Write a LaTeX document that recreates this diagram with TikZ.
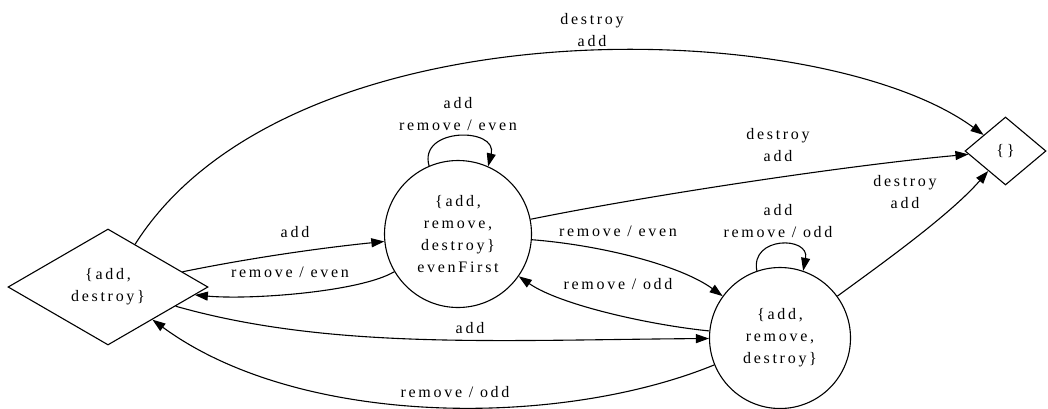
\documentclass[tikz,border=0pt]{standalone}
\usepackage{fontspec}
\setmainfont{Liberation Serif}[LetterSpace=17]
\usetikzlibrary{shapes.geometric,arrows.meta}

\tikzset{
  every node/.style={font=\fontsize{16}{22}\selectfont, align=center},
  statecircle/.style={circle, draw, line width=1.1pt, inner sep=0pt},
  statediamond/.style={diamond, draw, line width=1.1pt, inner sep=0pt},
  edge/.style={draw, line width=1.1pt, -{Triangle[length=13pt,width=9pt]}},
  lbl/.style={inner sep=0pt}
}

\begin{document}
\begin{tikzpicture}[x=1pt, y=-1pt]
  \useasboundingbox (0,0) rectangle (1048,408);

  % states
  \node[statediamond, minimum width=200pt, minimum height=116pt, aspect=1.72]
    (L) at (108,287) {\{add,\\destroy\}};
  \node[statecircle, minimum size=147pt]
    (C) at (458,234) {\{add,\\remove,\\destroy\}\\evenFirst};
  \node[statecircle, minimum size=141pt]
    (RC) at (780,338) {\{add,\\remove,\\destroy\}};
  \node[statediamond, minimum width=81pt, minimum height=68pt, aspect=1.2]
    (RD) at (1005.5,151) {\{\}};

  % transitions
  \draw[edge] (L) .. controls (290,0) and (820,15) .. (RD);
  \node[lbl] (tDA1) at (592,30) {destroy\\add};

  \draw[edge] (L) .. controls (250,258) and (320,248) .. (C);
  \node[lbl] (tA1) at (295,232) {add};

  \draw[edge] (C) .. controls (360,292) and (250,300) .. (L);
  \node[lbl] (tRE1) at (290,272) {remove / even};

  \draw[edge] (C.113) .. controls (418,127) and (498,127) .. (C.66);
  \node[lbl] (tLoopC) at (458,114) {add\\remove / even};

  \draw[edge] (C) .. controls (650,195) and (850,165) .. (RD);
  \node[lbl] (tDA2) at (778,145) {destroy\\add};

  \draw[edge] (C) .. controls (600,245) and (680,265) .. (RC);
  \node[lbl] (tRE2) at (618,231) {remove / even};

  \draw[edge] (RC) .. controls (650,325) and (560,305) .. (C);
  \node[lbl] (tRO1) at (618,284) {remove / odd};

  \draw[edge] (L) .. controls (330,350) and (500,340) .. (RC);
  \node[lbl] (tA2) at (470,328) {add};

  \draw[edge] (RC) .. controls (560,428) and (300,428) .. (L);
  \node[lbl] (tRO2) at (455,392) {remove / odd};

  \draw[edge] (RC.109) .. controls (750,236) and (810,236) .. (RC.71);
  \node[lbl] (tLoopRC) at (778,221) {add\\remove / odd};

  \draw[edge] (RC) .. controls (880,265) and (950,215) .. (RD);
  \node[lbl] (tDA3) at (905,192) {destroy\\add};
\end{tikzpicture}
\end{document}
